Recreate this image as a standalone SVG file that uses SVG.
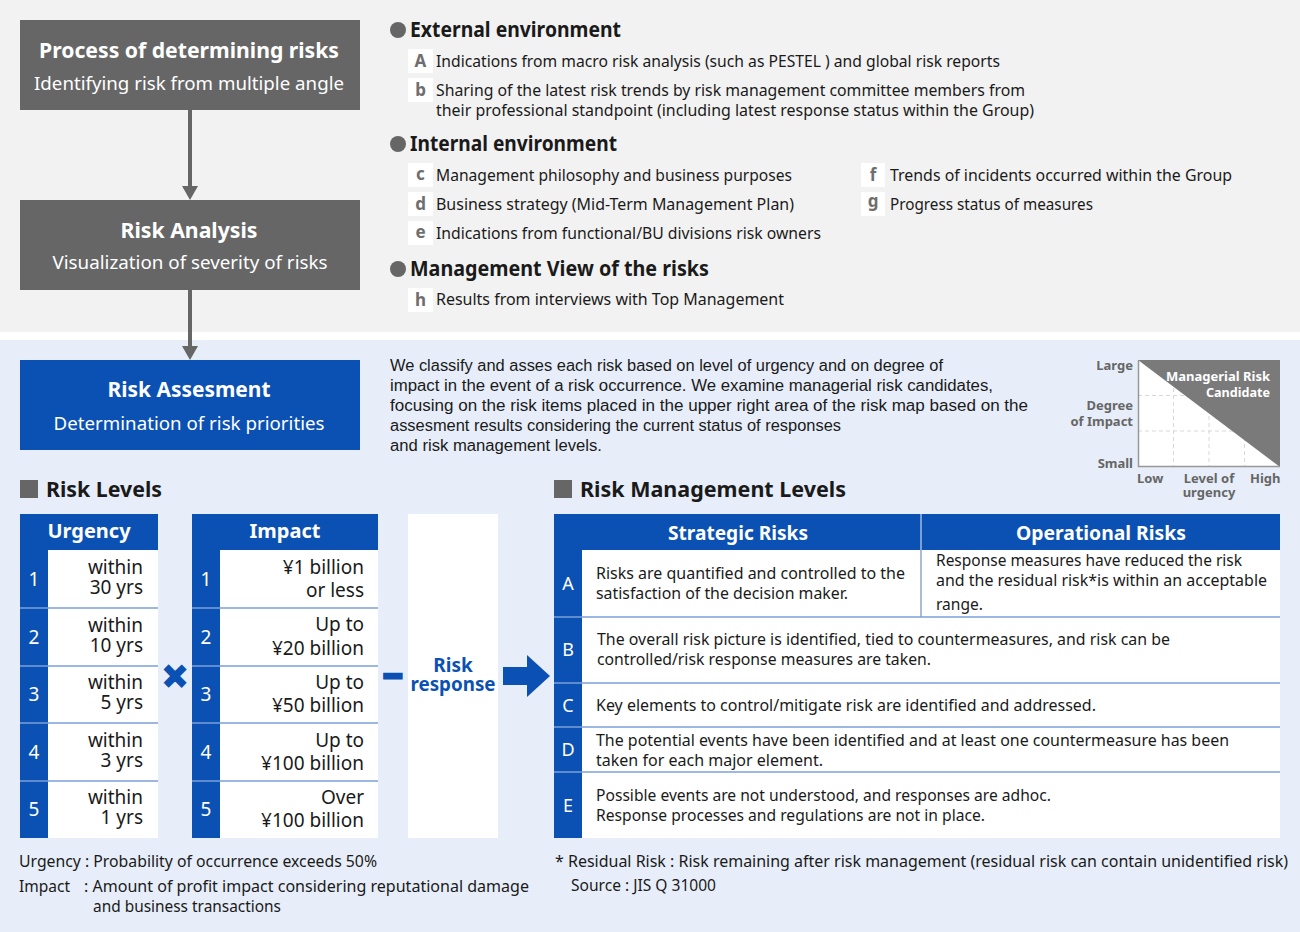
<svg xmlns="http://www.w3.org/2000/svg" width="1300" height="932" viewBox="0 0 1300 932">
<defs>
<style>
text{font-family:"Noto Sans","Open Sans",sans-serif;fill:#1a1a1a}
.b{font-weight:bold}
.c{text-anchor:middle}
.e{text-anchor:end}
.ttl{font-size:21px;font-weight:bold;fill:#fff;text-anchor:middle}
.sub{font-size:18px;fill:#fff;text-anchor:middle}
.hd{font-size:20.5px;font-weight:bold}
.it{font-size:16px}
.lbox{fill:#fff}
.let{font-size:17px;font-weight:bold;fill:#6e6e6e;text-anchor:middle}
.bul{fill:#666}
.cond{font-family:"Liberation Sans Narrow","Liberation Sans",sans-serif;font-size:16px}
.map{font-size:13px;font-weight:bold;fill:#666}
.mapw{font-size:13px;font-weight:bold;fill:#fff}
.blue{fill:#0b51b3}
.th{font-size:20px;font-weight:bold;fill:#fff;text-anchor:middle}
.num{font-size:19px;fill:#fff;text-anchor:middle}
.cell{font-size:19px;text-anchor:end}
.tx{font-size:16px}
.sep{stroke:#7ba1d9;stroke-width:1.5}
.fn{font-size:15.5px}
</style>
<marker id="ah" markerUnits="userSpaceOnUse" markerWidth="14" markerHeight="16" refX="8" refY="8" orient="auto"><path d="M0,0 L14,8 L0,16 z" fill="#666"/></marker>
</defs>

<!-- backgrounds -->
<rect x="0" y="0" width="1300" height="932" fill="#ffffff"/>
<rect x="0" y="0" width="1300" height="332" fill="#f2f2f2"/>
<rect x="0" y="340" width="1300" height="592" fill="#e7eef9"/>

<!-- connectors -->
<g id="connectors">
<line x1="190" y1="110" x2="190" y2="194" stroke="#666" stroke-width="4" marker-end="url(#ah)"/>
<line x1="190" y1="290" x2="190" y2="354" stroke="#666" stroke-width="4" marker-end="url(#ah)"/>
<polygon class="blue" points="503,667 527,667 527,655 550,676 527,697 527,685 503,685"/>
</g>

<!-- process nodes -->
<g id="process">
<rect x="20" y="20" width="340" height="90" fill="#666"/>
<text class="ttl" x="189" y="58" textLength="300" lengthAdjust="spacingAndGlyphs">Process of determining risks</text>
<text class="sub" x="189" y="90" textLength="310" lengthAdjust="spacingAndGlyphs">Identifying risk from multiple angle</text>
</g>
<g id="analysis">
<rect x="20" y="200" width="340" height="90" fill="#666"/>
<text class="ttl" x="189" y="238" textLength="137" lengthAdjust="spacingAndGlyphs">Risk Analysis</text>
<text class="sub" x="190" y="269" textLength="275" lengthAdjust="spacingAndGlyphs">Visualization of severity of risks</text>
</g>
<g id="assessment">
<rect x="20" y="360" width="340" height="90" fill="#0b51b3"/>
<text class="ttl" x="189" y="397" textLength="163" lengthAdjust="spacingAndGlyphs">Risk Assesment</text>
<text class="sub" x="189" y="430" textLength="271" lengthAdjust="spacingAndGlyphs">Determination of risk priorities</text>
</g>

<!-- sources -->
<g id="external">
<circle class="bul" cx="398" cy="30" r="8"/>
<text class="hd" x="410" y="37" textLength="211" lengthAdjust="spacingAndGlyphs">External environment</text>
<rect class="lbox" x="408" y="49" width="25" height="24"/>
<text class="let" x="420.5" y="67">A</text>
<text class="it" x="436" y="67" textLength="564" lengthAdjust="spacingAndGlyphs">Indications from macro risk analysis (such as PESTEL ) and global risk reports</text>
<rect class="lbox" x="408" y="78" width="25" height="24"/>
<text class="let" x="420.5" y="96">b</text>
<text class="it" x="436" y="96"><tspan x="436" y="96" textLength="589" lengthAdjust="spacingAndGlyphs">Sharing of the latest risk trends by risk management committee members from</tspan><tspan x="436" y="116" textLength="598" lengthAdjust="spacingAndGlyphs">their professional standpoint (including latest response status within the Group)</tspan></text>
</g>
<g id="internal">
<circle class="bul" cx="398" cy="144" r="8"/>
<text class="hd" x="410" y="151" textLength="207" lengthAdjust="spacingAndGlyphs">Internal environment</text>
<rect class="lbox" x="408" y="163" width="25" height="24"/>
<text class="let" x="420.5" y="180">c</text>
<text class="it" x="436" y="181" textLength="356" lengthAdjust="spacingAndGlyphs">Management philosophy and business purposes</text>
<rect class="lbox" x="408" y="192" width="25" height="24"/>
<text class="let" x="420.5" y="210">d</text>
<text class="it" x="436" y="210" textLength="358" lengthAdjust="spacingAndGlyphs">Business strategy (Mid-Term Management Plan)</text>
<rect class="lbox" x="408" y="221" width="25" height="24"/>
<text class="let" x="420.5" y="238">e</text>
<text class="it" x="436" y="239" textLength="385" lengthAdjust="spacingAndGlyphs">Indications from functional/BU divisions risk owners</text>
<rect class="lbox" x="861" y="163" width="24" height="24"/>
<text class="let" x="873" y="181">f</text>
<text class="it" x="890" y="181" textLength="342" lengthAdjust="spacingAndGlyphs">Trends of incidents occurred within the Group</text>
<rect class="lbox" x="861" y="192" width="24" height="24"/>
<text class="let" x="873" y="207">g</text>
<text class="it" x="890" y="210" textLength="203" lengthAdjust="spacingAndGlyphs">Progress status of measures</text>
</g>
<g id="management-view">
<circle class="bul" cx="398" cy="269" r="8"/>
<text class="hd" x="410" y="276" textLength="299" lengthAdjust="spacingAndGlyphs">Management View of the risks</text>
<rect class="lbox" x="408" y="288" width="25" height="24"/>
<text class="let" x="420.5" y="306">h</text>
<text class="it" x="436" y="305" textLength="348" lengthAdjust="spacingAndGlyphs">Results from interviews with Top Management</text>
</g>

<!-- assessment paragraph -->
<g id="assessment-text">
<text class="cond"><tspan x="390" y="371" textLength="553" lengthAdjust="spacingAndGlyphs">We classify and asses each risk based on level of urgency and on degree of</tspan><tspan x="390" y="391" textLength="603" lengthAdjust="spacingAndGlyphs">impact in the event of a risk occurrence. We examine managerial risk candidates,</tspan><tspan x="390" y="411" textLength="638" lengthAdjust="spacingAndGlyphs">focusing on the risk items placed in the upper right area of the risk map based on the</tspan><tspan x="390" y="431" textLength="451" lengthAdjust="spacingAndGlyphs">assesment results considering the current status of responses</tspan><tspan x="390" y="451" textLength="212" lengthAdjust="spacingAndGlyphs">and risk management levels.</tspan></text>
</g>

<!-- risk map -->
<g id="risk-map">
<rect x="1138" y="360" width="142" height="107" fill="#fff"/>
<g stroke="#d8d8d8" stroke-width="1" stroke-dasharray="4,3">
<line x1="1173.5" y1="360" x2="1173.5" y2="467"/>
<line x1="1209" y1="360" x2="1209" y2="467"/>
<line x1="1244.5" y1="360" x2="1244.5" y2="467"/>
<line x1="1138" y1="395.5" x2="1280" y2="395.5"/>
<line x1="1138" y1="431" x2="1280" y2="431"/>
</g>
<polygon points="1138,360 1280,360 1280,467" fill="#7a7a7a"/>
<polyline points="1138.5,360 1138.5,466.5 1280,466.5" fill="none" stroke="#999" stroke-width="1.5"/>
<text class="mapw" text-anchor="end"><tspan x="1270" y="381" textLength="104" lengthAdjust="spacingAndGlyphs">Managerial Risk</tspan><tspan x="1270" y="397" textLength="64" lengthAdjust="spacingAndGlyphs">Candidate</tspan></text>
<text class="map e" x="1133" y="370">Large</text>
<text class="map e"><tspan x="1133" y="410">Degree</tspan><tspan x="1133" y="426">of Impact</tspan></text>
<text class="map e" x="1133" y="468">Small</text>
<text class="map" x="1137" y="483">Low</text>
<text class="map c"><tspan x="1209" y="483">Level of</tspan><tspan x="1209" y="497">urgency</tspan></text>
<text class="map" x="1250" y="483">High</text>
</g>

<!-- Risk levels -->
<g id="risk-levels-title">
<rect x="20" y="480" width="18" height="18" fill="#666"/>
<text class="hd" x="46" y="497" textLength="116" lengthAdjust="spacingAndGlyphs">Risk Levels</text>
</g>

<g id="urgency-table">
<rect x="20" y="514" width="138" height="324" fill="#fff"/>
<rect x="20" y="514" width="138" height="36" fill="#0b51b3"/>
<rect x="20" y="550" width="28" height="288" fill="#0b51b3"/>
<text class="th" x="89" y="538">Urgency</text>
<line class="sep" x1="20" y1="608" x2="158" y2="608"/>
<line class="sep" x1="20" y1="666" x2="158" y2="666"/>
<line class="sep" x1="20" y1="723" x2="158" y2="723"/>
<line class="sep" x1="20" y1="781" x2="158" y2="781"/>
<text class="num" x="34" y="586">1</text>
<text class="num" x="34" y="644">2</text>
<text class="num" x="34" y="701">3</text>
<text class="num" x="34" y="759">4</text>
<text class="num" x="34" y="816">5</text>
<text class="cell"><tspan x="143" y="574">within</tspan><tspan x="143" y="594">30 yrs</tspan></text>
<text class="cell"><tspan x="143" y="632">within</tspan><tspan x="143" y="652">10 yrs</tspan></text>
<text class="cell"><tspan x="143" y="689">within</tspan><tspan x="143" y="709">5 yrs</tspan></text>
<text class="cell"><tspan x="143" y="747">within</tspan><tspan x="143" y="767">3 yrs</tspan></text>
<text class="cell"><tspan x="143" y="804">within</tspan><tspan x="143" y="824">1 yrs</tspan></text>
</g>

<g id="times">
<text x="175" y="692" text-anchor="middle" font-family="Liberation Sans, sans-serif" font-size="44" font-weight="bold" fill="#0b51b3" stroke="#0b51b3" stroke-width="2.5" style="fill:#0b51b3">×</text>
</g>

<g id="impact-table">
<rect x="192" y="514" width="186" height="324" fill="#fff"/>
<rect x="192" y="514" width="186" height="36" fill="#0b51b3"/>
<rect x="192" y="550" width="28" height="288" fill="#0b51b3"/>
<text class="th" x="285" y="538">Impact</text>
<line class="sep" x1="192" y1="608" x2="378" y2="608"/>
<line class="sep" x1="192" y1="666" x2="378" y2="666"/>
<line class="sep" x1="192" y1="723" x2="378" y2="723"/>
<line class="sep" x1="192" y1="781" x2="378" y2="781"/>
<text class="num" x="206" y="586">1</text>
<text class="num" x="206" y="644">2</text>
<text class="num" x="206" y="701">3</text>
<text class="num" x="206" y="759">4</text>
<text class="num" x="206" y="816">5</text>
<text class="cell"><tspan x="364" y="574">¥1 billion</tspan><tspan x="364" y="597">or less</tspan></text>
<text class="cell"><tspan x="364" y="631">Up to</tspan><tspan x="364" y="655">¥20 billion</tspan></text>
<text class="cell"><tspan x="364" y="689">Up to</tspan><tspan x="364" y="712">¥50 billion</tspan></text>
<text class="cell"><tspan x="364" y="747">Up to</tspan><tspan x="364" y="770">¥100 billion</tspan></text>
<text class="cell"><tspan x="364" y="804">Over</tspan><tspan x="364" y="827">¥100 billion</tspan></text>
</g>

<g id="minus">
<text x="393" y="688" text-anchor="middle" font-family="Liberation Sans, sans-serif" font-size="34" font-weight="bold" stroke="#0b51b3" stroke-width="3" style="fill:#0b51b3">−</text>
</g>

<g id="risk-response">
<rect x="408" y="514" width="90" height="324" fill="#fff"/>
<text class="c b" font-size="19" style="fill:#0b51b3"><tspan x="453" y="672">Risk</tspan><tspan x="453" y="691" textLength="85" lengthAdjust="spacingAndGlyphs">response</tspan></text>
</g>

<!-- Risk management levels -->
<g id="rml-title">
<rect x="554" y="480" width="18" height="18" fill="#666"/>
<text class="hd" x="580" y="497" textLength="266" lengthAdjust="spacingAndGlyphs">Risk Management Levels</text>
</g>

<g id="rml-table">
<rect x="554" y="514" width="726" height="324" fill="#fff"/>
<rect x="554" y="514" width="726" height="36" fill="#0b51b3"/>
<rect x="554" y="550" width="28" height="288" fill="#0b51b3"/>
<line x1="921" y1="514" x2="921" y2="550" stroke="#9fb9e3" stroke-width="1.5"/>
<line x1="921" y1="550" x2="921" y2="617" stroke="#8fa6cc" stroke-width="1.5"/>
<text class="th" x="738" y="540" style="font-size:19px" textLength="140" lengthAdjust="spacingAndGlyphs">Strategic Risks</text>
<text class="th" x="1101" y="540" style="font-size:19px" textLength="170" lengthAdjust="spacingAndGlyphs">Operational Risks</text>
<line class="sep" x1="554" y1="617" x2="1280" y2="617"/>
<line class="sep" x1="554" y1="683" x2="1280" y2="683"/>
<line class="sep" x1="554" y1="727" x2="1280" y2="727"/>
<line class="sep" x1="554" y1="772" x2="1280" y2="772"/>
<text class="num" x="568" y="590" style="font-size:18px">A</text>
<text class="num" x="568" y="656" style="font-size:18px">B</text>
<text class="num" x="568" y="712" style="font-size:18px">C</text>
<text class="num" x="568" y="756" style="font-size:18px">D</text>
<text class="num" x="568" y="812" style="font-size:18px">E</text>
<text class="tx"><tspan x="596" y="579" textLength="309" lengthAdjust="spacingAndGlyphs">Risks are quantified and controlled to the</tspan><tspan x="596" y="599" textLength="252" lengthAdjust="spacingAndGlyphs">satisfaction of the decision maker.</tspan></text>
<text class="tx"><tspan x="936" y="566" textLength="306" lengthAdjust="spacingAndGlyphs">Response measures have reduced the risk</tspan><tspan x="936" y="586" textLength="331" lengthAdjust="spacingAndGlyphs">and the residual risk*is within an acceptable</tspan><tspan x="936" y="610" textLength="47" lengthAdjust="spacingAndGlyphs">range.</tspan></text>
<text class="tx"><tspan x="597" y="645" textLength="573" lengthAdjust="spacingAndGlyphs">The overall risk picture is identified, tied to countermeasures, and risk can be</tspan><tspan x="597" y="665" textLength="334" lengthAdjust="spacingAndGlyphs">controlled/risk response measures are taken.</tspan></text>
<text class="tx" x="596" y="711" textLength="500" lengthAdjust="spacingAndGlyphs">Key elements to control/mitigate risk are identified and addressed.</text>
<text class="tx"><tspan x="596" y="746" textLength="633" lengthAdjust="spacingAndGlyphs">The potential events have been identified and at least one countermeasure has been</tspan><tspan x="596" y="766" textLength="227" lengthAdjust="spacingAndGlyphs">taken for each major element.</tspan></text>
<text class="tx"><tspan x="596" y="801" textLength="455" lengthAdjust="spacingAndGlyphs">Possible events are not understood, and responses are adhoc.</tspan><tspan x="596" y="821" textLength="389" lengthAdjust="spacingAndGlyphs">Response processes and regulations are not in place.</tspan></text>
</g>

<!-- footnotes -->
<g id="footnotes">
<text class="fn" x="19" y="867" textLength="358" lengthAdjust="spacingAndGlyphs">Urgency : Probability of occurrence exceeds 50%</text>
<text class="fn" x="19" y="892" textLength="51" lengthAdjust="spacingAndGlyphs">Impact</text>
<text class="fn"><tspan x="84" y="892" textLength="445" lengthAdjust="spacingAndGlyphs">: Amount of profit impact considering reputational damage</tspan><tspan x="93" y="912" textLength="188" lengthAdjust="spacingAndGlyphs">and business transactions</tspan></text>
<text class="fn"><tspan x="555" y="867" textLength="733" lengthAdjust="spacingAndGlyphs">* Residual Risk : Risk remaining after risk management (residual risk can contain unidentified risk)</tspan><tspan x="571" y="891" textLength="145" lengthAdjust="spacingAndGlyphs">Source : JIS Q 31000</tspan></text>
</g>
</svg>
